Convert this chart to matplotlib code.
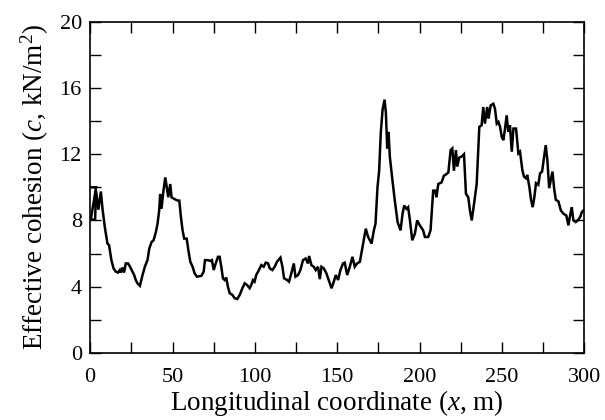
import matplotlib
matplotlib.use('Agg')
import matplotlib.pyplot as plt
from matplotlib.ticker import MultipleLocator

plt.rcParams['font.family'] = ['Liberation Serif', 'DejaVu Serif']
plt.rcParams['mathtext.fontset'] = 'custom'
plt.rcParams['mathtext.rm'] = 'Liberation Serif'
plt.rcParams['mathtext.it'] = 'Liberation Serif:italic'

# Longitudinal coordinate (m)
x_coord = [0, 3.6, 0.4, 3.0, 3.6, 5.0, 6.5, 7.5, 8.9, 10.5, 11.5, 12.9, 14.2, 15.6,
           17.0, 18.0, 18.6, 19.6, 20.6, 21.6, 23.0, 24.2, 25.7, 26.7, 27.7, 28.7,
           30.2, 31.8, 33.2, 34.8, 35.9, 37.3, 38.5, 39.9, 40.9, 41.9, 42.5, 43.3,
           44.5, 45.6, 46.5, 47.4, 48.6, 49.4, 51.0, 53.1, 54.1, 55.1, 56.1, 57.1,
           58.6, 59.6, 60.8, 62.2, 63.4, 64.8, 67.5, 68.9, 69.7, 71.5, 72.9, 73.9,
           75.0, 76.2, 77.6, 78.6, 79.6, 80.6, 81.6, 82.6, 83.6, 84.7, 86.3, 87.7,
           89.3, 90.8, 92.4, 93.8, 95.2, 96.8, 97.8, 98.8, 99.8, 100.8, 101.9,
           103.9, 105.3, 106.6, 108.0, 109.0, 110.6, 112.0, 113.4, 115.5, 116.7,
           117.7, 119.5, 120.7, 122.1, 123.6, 124.6, 126.2, 127.6, 129.2, 130.8,
           132.2, 132.9, 134.3, 135.7, 136.9, 138.3, 139.4, 140.4, 141.8, 143.4,
           144.8, 146.5, 147.9, 149.1, 150.5, 151.9, 153.5, 154.5, 156.0, 157.6,
           159.2, 160.6, 162.0, 163.7, 165.7, 167.3, 168.7, 170.8, 172.2, 173.2,
           174.4, 175.4, 176.4, 177.5, 178.7, 179.5, 180.3, 181.1, 181.9, 183.5,
           184.9, 186.6, 188.4, 189.6, 190.6, 192.0, 193.0, 194.1, 195.5, 197.1,
           198.5, 200.1, 202.1, 203.2, 205.2, 206.6, 208.2, 209.4, 210.2, 211.3,
           213.3, 214.7, 216.3, 217.4, 218.8, 219.8, 220.8, 222.0, 222.8, 224.0,
           225.4, 226.9, 228.1, 229.5, 230.5, 231.6, 233.0, 234.6, 236.2, 237.6,
           238.6, 239.6, 241.0, 241.8, 243.1, 244.7, 245.7, 246.8, 247.8, 248.8,
           249.8, 250.8, 251.8, 252.8, 253.8, 254.8, 255.9, 256.9, 258.5, 259.9,
           260.9, 262.3, 263.3, 264.5, 265.3, 266.6, 267.6, 268.6, 269.6, 270.6,
           272.0, 273.1, 274.3, 275.5, 276.5, 277.5, 278.6, 279.6, 280.6, 281.6,
           282.6, 284.2, 285.7, 287.3, 289.0, 290.3, 291.3, 292.3, 293.3, 294.7,
           295.9, 297.4, 298.4, 299.4, 300.0]

# Effective cohesion (kN/m^2)
cohesion = [10.0, 10.0, 8.05, 8.05, 9.8, 8.65, 9.75, 8.7, 7.6, 6.6, 6.5, 5.6, 5.1, 4.9,
            4.85, 5.0, 4.85, 5.15, 4.85, 5.4, 5.4, 5.2, 4.9, 4.7, 4.4, 4.2,
            4.05, 4.7, 5.2, 5.6, 6.3, 6.7, 6.8, 7.3, 7.8, 8.6, 9.6, 8.7,
            9.8, 10.6, 10.0, 9.4, 10.2, 9.4, 9.3, 9.2, 9.2, 8.2, 7.4, 6.9,
            6.9, 6.2, 5.5, 5.2, 4.8, 4.6, 4.65, 4.9, 5.6, 5.6, 5.55, 5.6,
            5.0, 5.4, 5.8, 5.8, 5.2, 4.5, 4.4, 4.55, 4.0, 3.6, 3.5, 3.3,
            3.25, 3.5, 3.9, 4.2, 4.1, 3.9, 4.1, 4.4, 4.3, 4.7, 4.9,
            5.3, 5.2, 5.45, 5.4, 5.1, 5.0, 5.2, 5.5, 5.75, 5.2,
            4.5, 4.4, 4.3, 4.8, 5.4, 4.6, 4.7, 5.0, 5.6, 5.7,
            5.4, 5.85, 5.3, 5.2, 5.0, 5.2, 4.45, 5.2, 5.1, 4.8,
            4.4, 3.9, 4.3, 4.7, 4.4, 5.0, 5.4, 5.45, 4.7, 5.2,
            5.8, 5.2, 5.4, 5.5, 6.6, 7.5, 7.0, 6.6, 7.4, 7.8,
            10.0, 11.0, 13.3, 14.7, 15.3, 14.5, 12.35, 13.35, 11.85, 10.4,
            9.2, 7.9, 7.4, 8.4, 8.9, 8.7, 8.8, 8.0, 6.8, 7.2,
            8.0, 7.7, 7.4, 7.0, 7.0, 7.4, 9.8, 9.8, 9.4, 10.2,
            10.3, 10.7, 10.8, 10.9, 12.25, 12.35, 11.0, 12.25, 11.25, 11.8,
            11.85, 12.0, 9.6, 9.4, 8.6, 8.0, 9.0, 10.2, 13.65, 13.75,
            14.85, 13.85, 14.85, 14.15, 14.95, 15.05, 14.75, 13.85, 13.95, 13.65,
            13.05, 12.85, 13.55, 14.35, 13.35, 13.75, 12.15, 13.55, 13.55, 12.05,
            12.15, 11.05, 10.65, 10.55, 10.75, 10.0, 9.25, 8.8, 9.4, 10.25,
            10.15, 10.85, 10.95, 11.85, 12.55, 11.65, 9.95, 10.45, 10.95, 9.95,
            9.25, 9.15, 8.6, 8.4, 8.3, 7.7, 8.3, 8.8, 8.0, 7.9,
            8.0, 8.2, 8.5, 8.6, 8.6]

fig = plt.figure(figsize=(6.05, 4.2), dpi=100)
ax = fig.add_axes([0.149, 0.160, 0.817, 0.788])

ax.plot(x_coord, cohesion, color='black', linewidth=1.8, solid_joinstyle='miter')

ax.set_xlim(0, 300)
ax.set_ylim(0, 20)
ax.xaxis.set_major_locator(MultipleLocator(50))
ax.xaxis.set_minor_locator(MultipleLocator(25))
ax.yaxis.set_major_locator(MultipleLocator(4))
ax.yaxis.set_minor_locator(MultipleLocator(2))
ax.tick_params(which='both', direction='in', top=True, right=True,
               length=8, width=1.0, labelsize=16, pad=6)
ax.tick_params(axis='x', which='both', pad=11)
for s in ax.spines.values():
    s.set_linewidth(1.2)

ax.set_xlabel(r'Longitudinal coordinate ($x$, m)', fontsize=19.5, labelpad=0.5)
ax.set_ylabel(r'Effective cohesion ($c$, kN/m$^2$)', fontsize=19.5, labelpad=6)

fig.savefig('out.png', dpi=100)
